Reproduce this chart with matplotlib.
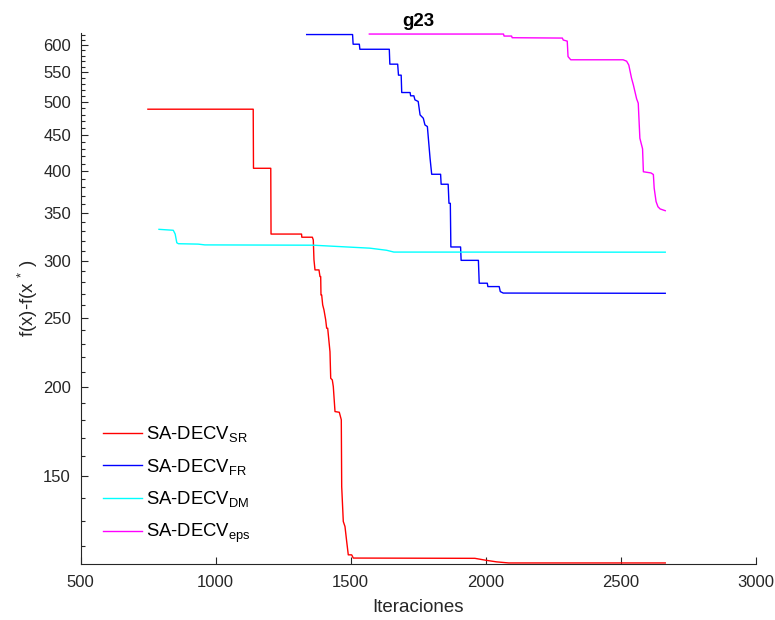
import matplotlib
matplotlib.use("Agg")
import matplotlib.pyplot as plt
from matplotlib.ticker import FixedLocator, NullFormatter

plt.rcParams["font.family"] = ["Liberation Sans", "DejaVu Sans"]
plt.rcParams["mathtext.fontset"] = "custom"
plt.rcParams["mathtext.rm"] = "Liberation Sans"
plt.rcParams["mathtext.it"] = "Liberation Sans:italic"
plt.rcParams["mathtext.bf"] = "Liberation Sans:bold"

# g23 convergence: iteration vs f(x)-f(x*) for each SA-DECV variant
sr_iter = [749, 1139, 1140, 1204, 1205, 1318, 1319, 1358, 1361.5, 1364, 1367.8, 1382.6,
           1386.3, 1388.9, 1390, 1392.6, 1396.3, 1401, 1407.4, 1411, 1414.8, 1423.3,
           1426, 1431.9, 1435.6, 1441.9, 1457.8, 1465.2, 1466.7, 1472.6, 1478.9,
           1485.2, 1491.1, 1503.7, 1509.6, 1960, 2000, 2040, 2085, 2665]
sr_err = [488.5, 488.5, 404, 404, 327, 327, 323.7, 323.7, 320.9, 301, 291.4, 291.4,
          285.2, 285.2, 268.8, 268.8, 260.4, 256.3, 248.2, 241.6, 241.6, 224,
          205.7, 204.6, 200.3, 184.8, 184.4, 180, 145.2, 129.8, 127.7,
          121.7, 116.6, 116.6, 115.4, 115.3, 114.6, 114.0, 113.6, 113.6]

fr_iter = [1337, 1507, 1509, 1532, 1534, 1643, 1645, 1674, 1677, 1687, 1689, 1720,
           1722, 1734, 1738, 1750, 1757, 1769, 1775, 1784, 1794, 1800, 1833, 1835,
           1861, 1864, 1869, 1871, 1907, 1909, 1973, 1976, 2006, 2008, 2050, 2054,
           2065, 2665]
fr_err = [621, 621, 602, 602, 592.3, 592.3, 564.6, 564.6, 545, 545, 515.4, 515.4,
          510, 510, 503.4, 500.8, 479.6, 474.5, 464.4, 462, 417, 396.3, 396.3, 383.8,
          383.8, 361, 361, 313.7, 313.7, 300.5, 300.5, 279.2, 279.2, 276.2, 276.2, 271.8,
          270.5, 270.3]

dm_iter = [790, 843, 850, 856, 862, 935, 960, 1361, 1571, 1633, 1660, 2665]
dm_err = [332, 331, 327, 318, 317, 316.6, 315.8, 315.5, 312.5, 310.4, 308.6, 308.5]

eps_iter = [1569, 2066, 2068, 2096, 2098, 2284, 2287, 2302, 2305, 2315, 2509, 2522,
            2530, 2540, 2547, 2559, 2565, 2571, 2581, 2584, 2612, 2621, 2624, 2631,
            2638, 2646, 2665]
eps_err = [622, 622, 618, 618, 614.7, 614, 610.2, 608, 578.5, 572.6, 572.6, 570,
           563, 540, 528, 505, 498, 445, 430, 399.5, 398, 396, 379, 363,
           357, 354.5, 352.5]

labels = [r"SA-DECV$_{\mathrm{SR}}$", r"SA-DECV$_{\mathrm{FR}}$",
          r"SA-DECV$_{\mathrm{DM}}$", r"SA-DECV$_{\mathrm{eps}}$"]
colors = ["#ff0000", "#0000ff", "#00ffff", "#ff00ff"]

y_major = [150, 200, 250, 300, 350, 400, 450, 500, 550, 600]
y_minor = [v for v in range(120, 630, 10) if v not in y_major]
x_major = [500, 1000, 1500, 2000, 2500, 3000]

fig = plt.figure(figsize=(7.75, 6.2), dpi=100)
ax = fig.add_axes([0.1041, 0.0898, 0.8710, 0.8569])

series = [(sr_iter, sr_err), (fr_iter, fr_err), (dm_iter, dm_err), (eps_iter, eps_err)]
for (xs, ys), lab, col in zip(series, labels, colors):
    ax.plot(xs, ys, color=col, lw=1.0, label=lab)

ax.set_yscale("log")
ax.set_xlim(500, 3000)
ax.set_ylim(113.1, 624)
ax.yaxis.set_major_locator(FixedLocator(y_major))
ax.yaxis.set_minor_locator(FixedLocator(y_minor))
ax.yaxis.set_minor_formatter(NullFormatter())
ax.set_yticklabels([str(v) for v in y_major])
ax.set_xticks(x_major)
ax.set_xticklabels([str(v) for v in x_major])

gray = "#262626"
for side in ["top", "right"]:
    ax.spines[side].set_visible(False)
for side in ["left", "bottom"]:
    ax.spines[side].set_color(gray)
    ax.spines[side].set_linewidth(0.8)
ax.tick_params(which="major", direction="in", length=5, width=0.8, color=gray,
               labelcolor=gray, labelsize=12)
ax.tick_params(which="minor", direction="in", length=3, width=0.8, color=gray)
ax.tick_params(axis="y", pad=7)
ax.tick_params(axis="x", pad=8)

ax.set_title("g23", fontsize=13.5, fontweight="bold", pad=5)
ax.set_xlabel("Iteraciones", fontsize=13.5, color=gray, labelpad=6)
ax.set_ylabel(r"f(x)-f(x $^{*}$ )", fontsize=13.5, color=gray, labelpad=2)

ax.legend(loc="upper left", bbox_to_anchor=(0.019, 0.281), frameon=False,
          fontsize=13.3, handlelength=2.1, handletextpad=0.25, labelspacing=0.68,
          borderpad=0)

fig.savefig("out.png", dpi=100)
